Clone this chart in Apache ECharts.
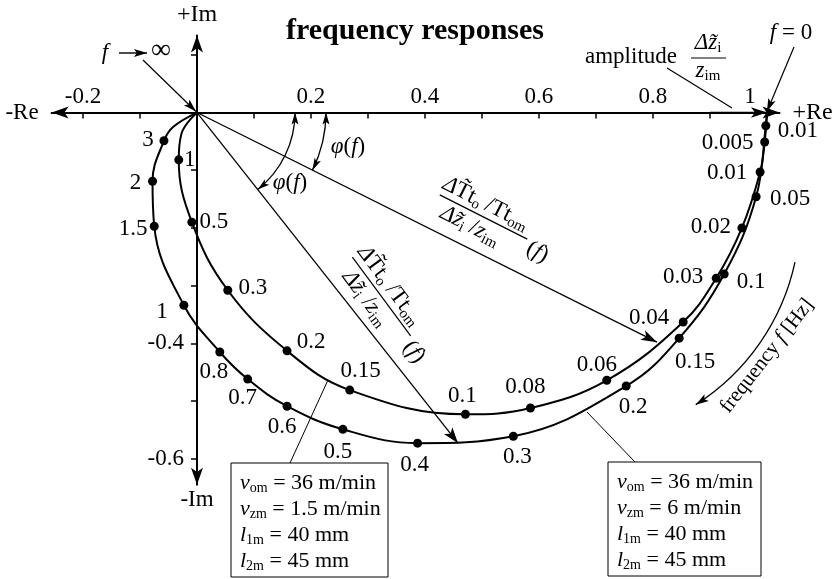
<!DOCTYPE html>
<html>
<head>
<meta charset="utf-8">
<script src="https://cdn.jsdelivr.net/npm/echarts@6/dist/echarts.min.js"></script>
<style>
html, body { margin: 0; padding: 0; background: #fff; }
#chart { width: 839px; height: 579px; }
</style>
</head>
<body>
<div id="chart"></div>
<script>
// Frequency response, v_zm = 1.5 m/min (inner curve)
const slowFreq = ['0.005', '0.01', '0.02', '0.03', '0.04', '0.06', '0.08', '0.1', '0.15', '0.2', '0.3', '0.5', '1'];
const slowRe = [0.996, 0.988, 0.956, 0.911, 0.853, 0.719, 0.585, 0.471, 0.268, 0.158, 0.054, -0.009, -0.032];
const slowIm = [-0.051, -0.103, -0.200, -0.287, -0.363, -0.464, -0.512, -0.523, -0.481, -0.413, -0.308, -0.190, -0.082];

// Frequency response, v_zm = 6 m/min (outer curve)
const fastFreq = ['0.01', '0.05', '0.1', '0.15', '0.2', '0.3', '0.4', '0.5', '0.6', '0.7', '0.8', '1', '1.5', '2', '3'];
const fastRe = [0.998, 0.981, 0.925, 0.846, 0.753, 0.555, 0.387, 0.256, 0.158, 0.089, 0.040, -0.023, -0.075, -0.078, -0.058];
const fastIm = [-0.023, -0.146, -0.280, -0.391, -0.474, -0.561, -0.573, -0.549, -0.509, -0.462, -0.415, -0.334, -0.197, -0.119, -0.049];

// Both curves start at f = 0 on (1, 0) and end at the origin for f -> infinity
const startPoint = [1, 0];
const endPoint = [0, 0];
const slowTail = [-0.027, -0.036];
const fastTail = [-0.042, -0.025];

// Axis ticks and labels
const xTickValues = [-0.2, -0.1, 0.1, 0.2, 0.3, 0.4, 0.5, 0.6, 0.7, 0.8, 0.9, 1];
const xLabelValues = [-0.2, 0.2, 0.4, 0.6, 0.8, 1];
const yTickValues = [0.1, -0.1, -0.2, -0.3, -0.4, -0.5, -0.6];
const yLabelValues = [-0.4, -0.6];

// Phasor tips (one on each curve)
const vectorSlow = [0.807, -0.398];
const vectorFast = [0.458, -0.573];

// Label placement around the dots (pixels from the dot centre)
const slowLabelOffset = [[-37, 1], [-33, 1], [-31, -1], [-33, -1], [-34, -4], [-10, -15], [-5, -21], [-3, -18], [11, -19], [24, -9], [25, -2], [22, 0], [11, 0]];
const fastLabelOffset = [[32, 5], [34, 2], [27, 8], [16, 24], [7, 21], [4, 21], [-3, 22], [-5, 23], [-5, 21], [-5, 19], [-6, 20], [-22, 7], [-21, 3], [-17, 2], [-16, -1]];

const SERIF = '"Liberation Serif", "DejaVu Serif", serif';
const FS = 23;
const RICH = {
  n: { fontSize: FS, fontFamily: SERIF, fill: '#000' },
  i: { fontSize: FS, fontFamily: SERIF, fontStyle: 'italic', fill: '#000' },
  s: { fontSize: 15, fontFamily: SERIF, fill: '#000', padding: [11, 0, 0, 0] },
  bn: { fontSize: 22, fontFamily: SERIF, fill: '#000' },
  bi: { fontSize: 22, fontFamily: SERIF, fontStyle: 'italic', fill: '#000' },
  bs: { fontSize: 14, fontFamily: SERIF, fill: '#000', padding: [11, 0, 0, 0] },
  fn: { fontSize: 21, fontFamily: SERIF, fill: '#000' },
  fi: { fontSize: 21, fontFamily: SERIF, fontStyle: 'italic', fill: '#000' },
  inf: { fontSize: 28, fontFamily: SERIF, fill: '#000' }
};

// Plot area and value ranges
const GRID = { left: 51.65, right: 59.5, top: 35.5, bottom: 94.3 };
const X_RANGE = [-0.255, 1.022];
const Y_RANGE = [-0.645, 0.1335];
const W = 839, H = 579;
const gridW = W - GRID.left - GRID.right;
const gridH = H - GRID.top - GRID.bottom;
// The axes cross at the origin: shift them from the plot edges onto zero
const xAxisShift = -(Y_RANGE[1] / (Y_RANGE[1] - Y_RANGE[0])) * gridH;
const yAxisShift = -(-X_RANGE[0] / (X_RANGE[1] - X_RANGE[0])) * gridW;

function curveData(freq, re, im, offsets, tail) {
  const pts = [{ value: startPoint, symbol: 'none', label: { show: false } }];
  freq.forEach((f, k) => {
    pts.push({ value: [re[k], im[k]], name: f, label: { show: true, offset: offsets[k] } });
  });
  pts.push({ value: tail, symbol: 'none', label: { show: false } });
  pts.push({ value: endPoint, symbol: 'none', label: { show: false } });
  return pts;
}

function curveSeries(name, data, extra) {
  return Object.assign({
    name: name,
    type: 'line',
    data: data,
    smooth: 0.4,
    showAllSymbol: true,
    symbol: 'circle',
    symbolSize: 9,
    itemStyle: { color: '#000' },
    lineStyle: { color: '#000', width: 2 },
    label: {
      show: true, position: 'inside', color: '#000',
      fontFamily: SERIF, fontSize: FS,
      formatter: p => p.name
    },
    emphasis: { disabled: true },
    silent: true,
    z: 3
  }, extra || {});
}

const chart = echarts.init(document.getElementById('chart'));

chart.setOption({
  animation: false,
  backgroundColor: '#fff',
  title: {
    text: 'frequency responses',
    left: 410, top: 11, textAlign: 'center',
    textStyle: { fontFamily: SERIF, fontWeight: 'bold', fontSize: 30, color: '#000' }
  },
  grid: GRID,
  xAxis: {
    type: 'value', min: X_RANGE[0], max: X_RANGE[1],
    position: 'top', offset: xAxisShift,
    name: '+Re', nameLocation: 'end', nameGap: 13,
    nameTextStyle: { fontFamily: SERIF, fontSize: 24, color: '#000', align: 'left', verticalAlign: 'middle' },
    axisLine: { onZero: false, symbol: ['arrow', 'arrow'], symbolSize: [9, 17], lineStyle: { color: '#000', width: 2 } },
    axisTick: { show: true, inside: true, customValues: xTickValues, length: 6, lineStyle: { color: '#000', width: 1.5 } },
    axisLabel: {
      customValues: xLabelValues, margin: 4,
      color: '#000', fontFamily: SERIF, fontSize: FS,
      formatter: v => (v === 1 ? '{one|1}' : String(v)),
      rich: { one: { fontFamily: SERIF, fontSize: FS, color: '#000', padding: [0, 34, 0, 0] } }
    },
    splitLine: { show: false }
  },
  yAxis: {
    type: 'value', min: Y_RANGE[0], max: Y_RANGE[1],
    position: 'left', offset: yAxisShift,
    name: '+Im', nameLocation: 'end', nameGap: 9,
    nameTextStyle: { fontFamily: SERIF, fontSize: 24, color: '#000', align: 'center', verticalAlign: 'bottom' },
    axisLine: { onZero: false, symbol: ['arrow', 'arrow'], symbolSize: [9, 17], lineStyle: { color: '#000', width: 2 } },
    axisTick: { show: true, customValues: yTickValues, length: 6, lineStyle: { color: '#000', width: 1.5 } },
    axisLabel: {
      customValues: yLabelValues, margin: 13,
      color: '#000', fontFamily: SERIF, fontSize: FS
    },
    splitLine: { show: false }
  },
  series: [
    curveSeries('vzm 1.5', curveData(slowFreq, slowRe, slowIm, slowLabelOffset, slowTail), {
      markLine: {
        silent: true, animation: false,
        symbol: ['none', 'arrow'], symbolSize: [8, 16],
        lineStyle: { color: '#000', width: 1.3, type: 'solid' },
        label: { show: false },
        emphasis: { disabled: true },
        data: [
          [{ coord: endPoint }, { coord: vectorSlow }],
          [{ coord: endPoint }, { coord: vectorFast }],
          [{ coord: [0.9, 0] }, { coord: startPoint }]
        ]
      }
    }),
    curveSeries('vzm 6', curveData(fastFreq, fastRe, fastIm, fastLabelOffset, fastTail))
  ]
});

// ---- annotations drawn on top of the axes ----
const toPx = v => chart.convertToPixel({ gridIndex: 0 }, v);
const O = toPx(endPoint);

function arrowHead(tip, dir, len, half) {
  len = len || 13; half = half || 4;
  const m = Math.hypot(dir[0], dir[1]);
  const ux = dir[0] / m, uy = dir[1] / m, nx = -uy, ny = ux;
  const bx = tip[0] - ux * len, by = tip[1] - uy * len;
  return {
    type: 'polygon', silent: true, z: 10,
    shape: { points: [[tip[0], tip[1]], [bx + nx * half, by + ny * half], [tip[0] - ux * len * 0.78, tip[1] - uy * len * 0.78], [bx - nx * half, by - ny * half]] },
    style: { fill: '#000' }
  };
}
function seg(a, b, w) {
  return { type: 'line', silent: true, z: 10, shape: { x1: a[0], y1: a[1], x2: b[0], y2: b[1] }, style: { stroke: '#000', lineWidth: w || 1.2 } };
}
function arrowLine(a, b, w) {
  return [seg(a, b, w), arrowHead(b, [b[0] - a[0], b[1] - a[1]])];
}
function text(x, y, t, align) {
  return {
    type: 'text', silent: true, z: 10, x: x, y: y,
    style: { text: t, rich: RICH, font: FS + 'px ' + SERIF, fill: '#000', align: align || 'center', verticalAlign: 'middle' }
  };
}
function phaseArc(r, tipData) {
  const E = toPx(tipData);
  const th = Math.atan2(E[1] - O[1], E[0] - O[0]);
  const s = [O[0] + r, O[1]];
  const e = [O[0] + r * Math.cos(th), O[1] + r * Math.sin(th)];
  return [
    { type: 'arc', silent: true, z: 10, shape: { cx: O[0], cy: O[1], r: r, startAngle: 0, endAngle: th, clockwise: true }, style: { stroke: '#000', fill: null, lineWidth: 1.3 } },
    arrowHead(s, [0, -1], 12, 3.5),
    arrowHead(e, [-Math.sin(th), Math.cos(th)], 12, 3.5)
  ];
}
function fraction(cx, cy, deg) {
  return {
    type: 'group', x: cx, y: cy, rotation: -deg * Math.PI / 180, silent: true, z: 10,
    children: [
      text(-4, -13, '{i|Δ}{n|T\u0303t}{s|o}{n| /Tt}{s|om}'),
      { type: 'line', silent: true, shape: { x1: -49, y1: 0, x2: 49, y2: 0 }, style: { stroke: '#000', lineWidth: 1.2 } },
      text(-8, 14, '{i|Δz\u0303}{s|i}{n| /}{i|z}{s|im}'),
      text(64, 7, '{n|(}{i|f}{n|)}')
    ]
  };
}
function paramBox(x, y, w, h, lines) {
  const out = [{ type: 'rect', silent: true, z: 10, shape: { x: x, y: y, width: w, height: h }, style: { fill: '#fff', stroke: '#000', lineWidth: 1 } }];
  lines.forEach((t, k) => out.push(text(x + 9, y + 20 + k * 26, t, 'left')));
  return out;
}

const one = toPx(startPoint);
const freqCenter = [574.5, 214.4], freqR = 225.6;
const fa0 = 12.2 * Math.PI / 180, fa1 = 57.5 * Math.PI / 180;
const freqTip = [freqCenter[0] + freqR * Math.cos(fa1), freqCenter[1] + freqR * Math.sin(fa1)];

const graphics = [].concat(
  // axis ends
  text(22, O[1], '{n|-Re}'),
  text(O[0], 500, '{n|-Im}'),
  // f -> infinity
  text(105, 53, '{i|f}'),
  arrowLine([119, 53], [147, 53], 1.4),
  text(161, 51, '{inf|∞}'),
  arrowLine([143, 60], [O[0] - 1, O[1] - 1], 1.2),
  // f = 0
  text(791, 33, '{i|f}{n| = 0}'),
  arrowLine([794, 47], [one[0], one[1] - 1], 1.2),
  // amplitude
  text(585, 57, '{n|amplitude}', 'left'),
  text(708, 43, '{i|Δz\u0303}{s|i}'),
  seg([691, 58], [726, 58], 1.2),
  text(708, 71, '{i|z}{s|im}'),
  seg([667, 68], [732, 108], 1.1),
  // phase angles
  phaseArc(98, vectorFast),
  phaseArc(129, vectorSlow),
  text(348, 147, '{i|φ}{n|(}{i|f}{n|)}'),
  text(290, 183, '{i|φ}{n|(}{i|f}{n|)}'),
  // transfer function labels along the phasors
  fraction(483.5, 217, 26.8),
  fraction(381.5, 296.5, 53.5),
  // direction of increasing frequency
  { type: 'arc', silent: true, z: 10, shape: { cx: freqCenter[0], cy: freqCenter[1], r: freqR, startAngle: fa0, endAngle: fa1, clockwise: true }, style: { stroke: '#000', fill: null, lineWidth: 1.3 } },
  arrowHead(freqTip, [-Math.sin(fa1), Math.cos(fa1)], 13, 4),
  { type: 'group', x: 767, y: 356, rotation: 52 * Math.PI / 180, silent: true, z: 10,
    children: [text(0, 0, '{fn|frequency }{fi|f}{fn| [Hz]}')] },
  // parameter boxes with leader lines
  seg([290, 463], [328, 380], 1),
  seg([635, 462], [587, 412], 1),
  paramBox(231, 463, 157, 114, ['{bi|v}{bs|om}{bn| = 36 m/min}', '{bi|v}{bs|zm}{bn| = 1.5 m/min}', '{bi|l}{bs|1m}{bn| = 40 mm}', '{bi|l}{bs|2m}{bn| = 45 mm}']),
  paramBox(608, 462, 153, 114, ['{bi|v}{bs|om}{bn| = 36 m/min}', '{bi|v}{bs|zm}{bn| = 6 m/min}', '{bi|l}{bs|1m}{bn| = 40 mm}', '{bi|l}{bs|2m}{bn| = 45 mm}'])
);

chart.setOption({ graphic: graphics });
</script>
</body>
</html>
